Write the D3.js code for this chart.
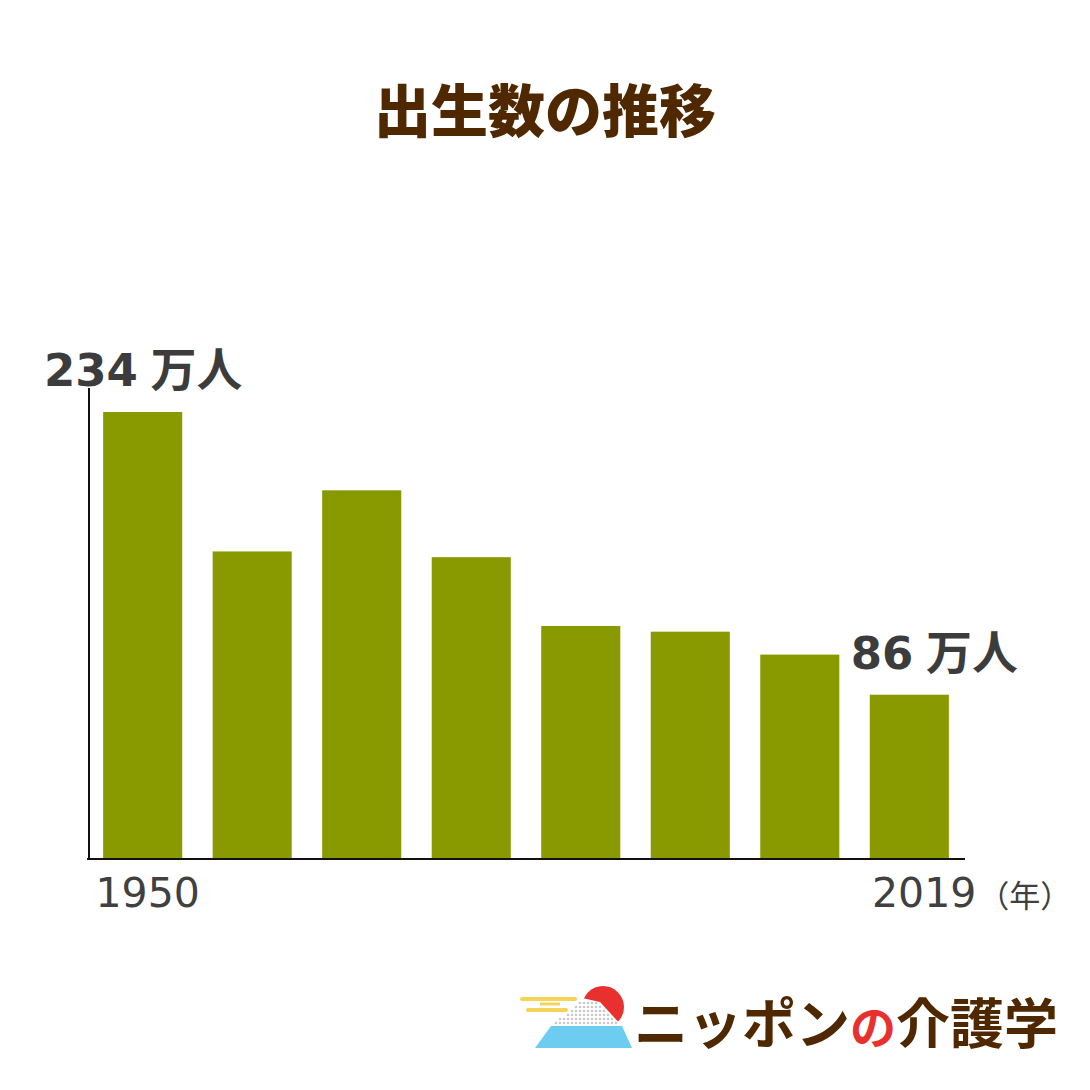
<!DOCTYPE html>
<html><head><meta charset="utf-8">
<script src="https://cdn.jsdelivr.net/npm/d3@7"></script>
<style>body{margin:0;background:#fff}svg{display:block}</style>
</head><body>
<script>
const years = ["1950","1960","1970","1980","1990","2000","2010","2019"];
const births = [234, 161, 193, 158, 122, 119, 107, 86];
const tickLabels = ["1950","2019"];
const valueLabels = [{i:0, text:"234 万人"}, {i:7, text:"86 万人"}];
const title = "出生数の推移";

const W=1090,H=1090;
const svg=d3.select("body").append("svg").attr("width",W).attr("height",H);
svg.append("rect").attr("width",W).attr("height",H).attr("fill","#fff");

const x=d3.scaleBand().domain(years).range([90,962]).paddingInner(0.278).paddingOuter(0.12);
const y=d3.scaleLinear().domain([0,234]).range([859,412]);

svg.append("text").attr("x",545).attr("y",132).attr("text-anchor","middle")
 .attr("font-family","'Noto Sans CJK JP'").attr("font-weight",900).attr("font-size",57)
 .attr("fill","#4f2800").text(title);

svg.selectAll("rect.bar").data(births).enter().append("rect").attr("class","bar")
 .attr("x",(d,i)=>x(years[i])).attr("width",x.bandwidth())
 .attr("y",d=>y(d)).attr("height",d=>y(0)-y(d)).attr("fill","#889a00");

// axes lines
svg.append("line").attr("x1",89).attr("x2",89).attr("y1",388).attr("y2",860).attr("stroke","#111").attr("stroke-width",2);
svg.append("line").attr("x1",87).attr("x2",965).attr("y1",859).attr("y2",859).attr("stroke","#111").attr("stroke-width",2);

// value labels
const lab=svg.selectAll("text.val").data(valueLabels).enter().append("text").attr("class","val")
 .attr("font-family","'DejaVu Sans','Noto Sans CJK JP'").attr("font-weight","bold").attr("font-size",45)
 .attr("fill","#3c3c3c")
 .attr("x",d=> d.i===0 ? 44 : x(years[d.i])-19)
 .attr("y",d=> y(births[d.i])-26);
lab.each(function(d){
 const parts=d.text.split(" ");
 const t=d3.select(this);
 t.append("tspan").text(parts[0]+" ");
 t.append("tspan").attr("font-family","'Noto Sans CJK JP'").attr("font-weight",700).attr("font-size",46).attr("dx",-3).text(parts[1]);
});

// x tick labels
svg.append("text").attr("x",x("1950")+x.bandwidth()/2+5).attr("y",907).attr("text-anchor","middle")
 .attr("font-family","'DejaVu Sans'").attr("font-size",41).attr("fill","#404040").text(tickLabels[0]);
const t2=svg.append("text").attr("x",872).attr("y",907)
 .attr("font-family","'DejaVu Sans'").attr("font-size",41).attr("fill","#404040");
t2.append("tspan").text(tickLabels[1]);
t2.append("tspan").attr("font-family","'Noto Sans CJK JP'").attr("font-size",31).attr("dx",2).text("（年）");

// logo
const g=svg.append("g");
g.append("line").attr("x1",522).attr("x2",575).attr("y1",999).attr("y2",999).attr("stroke","#f3d35a").attr("stroke-width",4).attr("stroke-linecap","round");
g.append("line").attr("x1",540).attr("x2",560).attr("y1",1004).attr("y2",1004).attr("stroke","#f3d35a").attr("stroke-width",3);
g.append("line").attr("x1",528).attr("x2",566).attr("y1",1010).attr("y2",1010).attr("stroke","#f3d35a").attr("stroke-width",4).attr("stroke-linecap","round");
g.append("circle").attr("cx",603).attr("cy",1007).attr("r",21).attr("fill","#e8312f");
g.append("path").attr("d","M582,998 L600,1002 L622,1026 L551,1026 Z").attr("fill","#fff");
for(let yy=1003;yy<1026;yy+=4){for(let xx=552;xx<622;xx+=4){
  const left=582-(yy-998)*31/28, right=600+(yy-1002)*22/24;
  if(xx>left+1&&xx<right-1) g.append("circle").attr("cx",xx).attr("cy",yy).attr("r",1.3).attr("fill","#c8c8c8");
}}
g.append("path").attr("d","M551,1026 L622,1026 L632,1048 L535,1048 Z").attr("fill","#6dcdf0");
const lt=g.append("text").attr("x",634).attr("y",1044).attr("font-family","'Noto Sans CJK JP'").attr("font-weight",700).attr("font-size",54).attr("fill","#4f2800");
lt.append("tspan").text("ニッポン");
lt.append("tspan").attr("fill","#e8312f").attr("font-size",46).text("の");
lt.append("tspan").text("介護学");
</script>
</body></html>
